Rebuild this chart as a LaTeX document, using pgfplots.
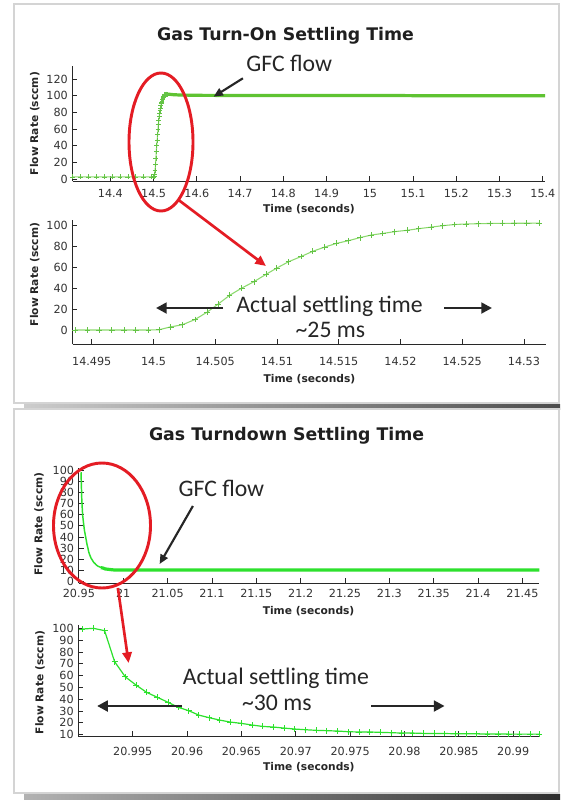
\documentclass[border=0pt]{standalone}
\usepackage{fontspec}
\setmainfont{DejaVu Sans}
\newfontfamily\annot{Carlito}
\newfontfamily\labfont{DejaVu Sans Bold}
\usepackage{pgfplots}
\pgfplotsset{compat=1.18}
\usetikzlibrary{arrows.meta}

\definecolor{bandgreen}{RGB}{95,195,50}
\definecolor{litegreen}{RGB}{140,218,110}
\definecolor{markgreen}{RGB}{100,195,70}
\definecolor{brightgreen}{RGB}{45,225,45}
\definecolor{annred}{RGB}{228,28,36}
\definecolor{framegray}{RGB}{212,212,212}
\definecolor{axgray}{RGB}{40,40,40}

\pgfplotsset{
  every axis/.append style={
    scale only axis,
    anchor=north west,
    axis x line*=bottom, axis y line*=left,
    axis line style={axgray, line width=0.7pt},
    tick align=inside,
    major tick length=3.75pt,
    minor tick num=0,
    tick style={axgray, line width=0.6pt},
    tick label style={font=\fontsize{8.4}{9}\selectfont, text=black!80},
    /pgf/number format/assume math mode=true,
    every axis x label/.style={anchor=center, font=\labfont\fontsize{8}{9}\selectfont, text=black!85},
    every axis y label/.style={anchor=center, rotate=90, font=\labfont\fontsize{8}{9}\selectfont, text=black!85},
  }
}

\begin{document}
\begin{tikzpicture}
\begin{scope}[x=0.75pt, y=-0.75pt]
\path[fill=white] (0,0) rectangle (560,800);
% panel frames and shadows
\shade[left color=black!20, right color=black!70] (24,404.3) rectangle (560,409.3);
\shade[left color=black!30, right color=black!82] (24,794) rectangle (560,800);
\draw[framegray, line width=1.7pt] (13.8,3.7) rectangle (559.2,403);
\draw[framegray, line width=1.7pt] (13.8,409.2) rectangle (559.2,792.7);
% titles
\node[anchor=base, font=\labfont\fontsize{13}{15}\selectfont, text=black!88] at (285.6,40.7) {Gas Turn-On Settling Time};
\node[anchor=base, font=\labfont\fontsize{13}{15}\selectfont, text=black!88] at (286.6,440.7) {Gas Turndown Settling Time};
\end{scope}

% ---------- top 1 ----------
\begin{axis}[at={(54.375pt,-49.5pt)}, width=354.675pt, height=86.475pt,
  xmin=14.3124, xmax=15.4058, ymin=-2.8, ymax=135.6,
  xtick={14.4,14.5,14.6,14.7,14.8,14.9,15,15.1,15.2,15.3,15.4},
  xticklabels={14.4,14.5,14.6,14.7,14.8,14.9,15,15.1,15.2,15.3,15.4},
  ytick={0,20,40,60,80,100,120},
  yticklabels={0,20,40,60,80,100,120},
  xticklabel style={yshift=-2.7pt},
  xlabel={Time (seconds)}, ylabel={Flow Rate (sccm)},
  xlabel style={at={(axis description cs:0.5,-0.2428)}},
  ylabel style={at={(axis description cs:-0.0797,0.5)}},
]
\addplot[litegreen, line width=0.8pt, mark=+, mark size=1.8pt, mark options={markgreen, line width=0.5pt}] coordinates {
(14.3130,2.5) (14.3312,2.5) (14.3494,2.5) (14.3676,2.5) (14.3858,2.5) (14.4040,2.5)
(14.4222,2.5) (14.4404,2.5) (14.4586,2.5) (14.4768,2.5) (14.4950,2.5) (14.4996,2.5)
(14.50046,2.5) (14.50139,3.5) (14.50234,5) (14.50336,10) (14.50434,17) (14.50521,24.5)
(14.50616,33) (14.50715,40) (14.50813,46) (14.50911,53) (14.50998,59) (14.51093,65)
(14.51195,70) (14.51290,75) (14.51386,79) (14.51481,82.5) (14.51576,85) (14.51672,88)
(14.51764,90.5) (14.51857,92) (14.51952,93.7) (14.52054,95) (14.52146,96.5) (14.52247,98)
(14.52343,99.4) (14.52438,100.5) (14.52531,101) (14.52632,101.3) (14.52724,101.5)
(14.52826,101.6) (14.52921,101.7) (14.53022,101.7) (14.53123,101.8)
};
\addplot[bandgreen, line width=2.4pt] coordinates {
(14.53123,101.8) (14.535,101.8) (14.545,101.2) (14.56,100.8) (14.6,100.4) (14.7,100.2)
(14.8,100.1) (14.9,100.3) (15.0,100.3) (15.05,100.2) (15.1,100) (15.2,100) (15.3,100) (15.405,100)
};
\end{axis}

% ---------- bottom 1 ----------
\begin{axis}[at={(54.375pt,-165pt)}, width=355.425pt, height=93.225pt,
  xmin=14.49344, xmax=14.53182, ymin=-13.6, ymax=104.8,
  xtick={14.495,14.5,14.505,14.51,14.515,14.52,14.525,14.53},
  xticklabels={14.495,14.5,14.505,14.51,14.515,14.52,14.525,14.53},
  ytick={0,20,40,60,80,100},
  yticklabels={0,20,40,60,80,100},
  xticklabel style={yshift=-5.9pt},
  xlabel={Time (seconds)}, ylabel={Flow Rate (sccm)},
  xlabel style={at={(axis description cs:0.5,-0.2816)}},
  ylabel style={at={(axis description cs:-0.0796,0.5615)}},
]
\addplot[litegreen, line width=0.8pt, mark=+, mark size=2.2pt, mark options={markgreen, line width=0.5pt}] coordinates {
(14.49364,0) (14.49465,0) (14.49561,0) (14.49662,0) (14.49760,0) (14.49856,0) (14.49960,0)
(14.50046,0.3) (14.50139,3) (14.50234,5) (14.50336,10) (14.50434,17) (14.50521,24.5)
(14.50616,33) (14.50715,40) (14.50813,46) (14.50911,53) (14.50998,59) (14.51093,65)
(14.51195,70) (14.51290,75) (14.51386,79) (14.51481,82.5) (14.51576,85) (14.51672,88)
(14.51764,90.5) (14.51857,92) (14.51952,93.7) (14.52054,95) (14.52146,96.5) (14.52247,98)
(14.52343,99.4) (14.52438,100.5) (14.52531,101) (14.52632,101.3) (14.52724,101.5)
(14.52826,101.6) (14.52921,101.7) (14.53022,101.7) (14.53123,101.8)
};
\end{axis}

% ---------- top 2 ----------
\begin{axis}[at={(59.1pt,-351pt)}, width=345.375pt, height=86.25pt,
  xmin=20.9499, xmax=21.469, ymin=-1.2, ymax=101.8,
  xtick={20.95,21,21.05,21.1,21.15,21.2,21.25,21.3,21.35,21.4,21.45},
  xticklabels={20.95,21,21.05,21.1,21.15,21.2,21.25,21.3,21.35,21.4,21.45},
  ytick={0,10,20,30,40,50,60,70,80,90,100},
  yticklabels={0,10,20,30,40,50,60,70,80,90,100},
  xticklabel style={yshift=-1.4pt},
  xlabel={Time (seconds)}, ylabel={Flow Rate (sccm)},
  xlabel style={at={(axis description cs:0.499,-0.2409)}},
  ylabel style={at={(axis description cs:-0.0864,0.513)}},
]
\addplot[brightgreen, line width=1.1pt] coordinates {
(20.95241,98) (20.95333,71.8) (20.95431,59) (20.95530,52) (20.95628,45.8) (20.95727,41.6)
(20.95825,37.4) (20.95924,33) (20.96015,30.3) (20.96107,26.6) (20.96203,24.4) (20.96298,22.4)
(20.96396,20.7) (20.96498,19.6) (20.96597,18.2) (20.96695,17) (20.96793,16.5) (20.96892,15.6)
(20.96990,14.8) (20.97089,14.2) (20.97187,13.7) (20.97286,13.4) (20.97384,13.1) (20.97483,12.5)
};
\addplot[brightgreen, line width=2.4pt] coordinates {
(20.97483,12.5) (20.97680,12.3) (20.97975,11.4) (20.98271,11.1) (20.98566,10.8) (20.98960,10.5)
(20.9924,10.5) (21.05,10.4) (21.2,10.4) (21.35,10.4) (21.469,10.4)
};
\end{axis}

% ---------- bottom 2 ----------
\begin{axis}[at={(58.8pt,-468.75pt)}, width=345.675pt, height=83.25pt,
  xmin=20.9500, xmax=20.9924, ymin=8.9, ymax=102.8,
  xtick={20.955,20.96,20.965,20.97,20.975,20.98,20.985,20.99},
  xticklabels={20.995,20.96,20.965,20.97,20.975,20.98,20.985,20.99},
  ytick={10,20,30,40,50,60,70,80,90,100},
  yticklabels={10,20,30,40,50,60,70,80,90,100},
  xticklabel style={yshift=-4.6pt},
  xlabel={Time (seconds)}, ylabel={Flow Rate (sccm)},
  xlabel style={at={(axis description cs:0.5,-0.2766)}},
  ylabel style={at={(axis description cs:-0.0833,0.482)}},
]
\addplot[brightgreen, line width=0.9pt, mark=+, mark size=2.2pt, mark options={line width=0.6pt}] coordinates {
(20.95037,99.4) (20.95139,100) (20.95241,98) (20.95333,71.8) (20.95431,59) (20.95530,52)
(20.95628,45.8) (20.95727,41.6) (20.95825,37.4) (20.95924,33) (20.96015,30.3) (20.96107,26.6)
(20.96203,24.4) (20.96298,22.4) (20.96396,20.7) (20.96498,19.6) (20.96597,18.2) (20.96695,17)
(20.96793,16.5) (20.96892,15.6) (20.96990,14.8) (20.97089,14.2) (20.97187,13.7) (20.97286,13.4)
(20.97384,13.1) (20.97483,12.5) (20.97581,12.3) (20.97680,12.3) (20.97778,12) (20.97877,11.7)
(20.97975,11.4) (20.98074,11.4) (20.98172,11.1) (20.98271,11.1) (20.98369,11.0) (20.98467,10.8)
(20.98566,10.8) (20.98664,10.7) (20.98763,10.6) (20.98861,10.6) (20.98960,10.5) (20.99058,10.5)
(20.99157,10.5) (20.99240,10.5)
};
\end{axis}

% ---------- annotations ----------
\begin{scope}[x=0.75pt, y=-0.75pt]
\draw[annred, line width=2.2pt] (161,142) ellipse [x radius=32, y radius=69];
\draw[annred, line width=2.2pt] (102,525.5) ellipse [x radius=48.5, y radius=62.5];
\draw[annred, line width=2pt, -{Triangle[length=8pt,width=7pt]}] (178.6,200) -- (266,266);
\draw[annred, line width=2pt, -{Triangle[length=8pt,width=7pt]}] (117.9,588) -- (128.6,663);

\draw[black!85, line width=1.6pt, -{Triangle[length=7pt,width=6pt]}] (242.9,78.3) -- (213.6,96.7);
\draw[black!85, line width=1.6pt, -{Triangle[length=7pt,width=6pt]}] (192.9,506) -- (159.6,564);

\draw[black!85, line width=2.2pt, -{Triangle[length=8pt,width=8pt]}] (223.2,308) -- (156,308);
\draw[black!85, line width=2.2pt, -{Triangle[length=8pt,width=8pt]}] (444,308) -- (492,308);
\draw[black!85, line width=2.2pt, -{Triangle[length=8pt,width=8pt]}] (182.1,706) -- (97.1,706);
\draw[black!85, line width=2.2pt, -{Triangle[length=8pt,width=8pt]}] (371.4,706) -- (444.6,706);

\begin{scope}[every node/.style={anchor=base, font=\annot\fontsize{17.8}{20}\selectfont, text=black!85}]
\node at (289.3,71.7) {GFC flow};
\node at (329.5,312.7) {Actual settling time};
\node at (330.4,337.3) {\textasciitilde 25 ms};
\node at (221.4,496.7) {GFC flow};
\node at (275.9,684) {Actual settling time};
\node at (276.8,710) {\textasciitilde 30 ms};
\end{scope}
\end{scope}
\end{tikzpicture}
\end{document}
